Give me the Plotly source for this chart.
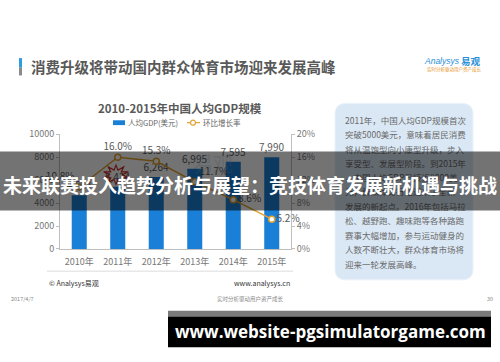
import math
import plotly.graph_objects as go

# ---------------- data ----------------
years = ['2010年', '2011年', '2012年', '2013年', '2014年', '2015年']
gdp_usd = [4684, 5434, 6264, 6995, 7595, 7990]
growth_pct = [10.8, 16.0, 15.3, 11.7, 8.6, 5.2]
growth_label_pos = ['top left', 'top center', 'top center', 'top right', 'middle right', 'middle right']
left_ticks = [0, 2000, 4000, 6000, 8000, 10000]
right_ticks = [0, 4, 8, 12, 16, 20]
right_tick_text = ['0%', '4%', '8%', '12%', '16%', '20%']
legend_names = ['人均GDP(美元)', '环比增长率']

panel_lines = [
    '2011年，中国人均GDP规模首次',
    '突破5000美元，意味着居民消费',
    '将从温饱型向小康型升级，步入',
    '享受型、发展型阶段。到2015年',
    '，中国人均GDP已接近8000美',
    '元，群众体育行业迎来了全新',
    '发展的新起点。2016年包括马拉',
    '松、越野跑、趣味跑等各种路跑',
    '赛事大幅增加，参与运动健身的',
    '人数不断壮大，群众体育市场将',
    '迎来一轮发展高峰。',
]
panel_line_y = [119, 134, 149, 164, 178, 193, 208, 223, 238, 253, 268]

slide_title = '消费升级将带动国内群众体育市场迎来发展高峰'
chart_title = '2010-2015年中国人均GDP规模'
banner_title = '未来联赛投入趋势分析与展望：竞技体育发展新机遇与挑战'
site_text = 'www.website-pgsimulatorgame.com'

W, H = 500, 362
FONT = 'Noto Sans CJK SC'
LINE_C = '#e3a12f'
BAR_C = '#1a7fd6'

fig = go.Figure()

fig.add_trace(go.Bar(
    x=years, y=gdp_usd, name=legend_names[0],
    marker=dict(color=BAR_C, line=dict(width=0)),
    text=[f'{v:,}' for v in gdp_usd], textposition='outside',
    textfont=dict(size=10, color='#595959', family=FONT),
    constraintext='none', cliponaxis=False, hoverinfo='skip', showlegend=False,
))
fig.add_trace(go.Scatter(
    x=years, y=growth_pct, yaxis='y2', name=legend_names[1],
    mode='lines+markers+text',
    line=dict(color=LINE_C, width=1.5),
    marker=dict(size=6, color='white', line=dict(color=LINE_C, width=1.5)),
    text=[f'{g:.1f}%' for g in growth_pct], textposition=growth_label_pos,
    textfont=dict(size=10, color='#595959', family=FONT),
    cliponaxis=False, hoverinfo='skip', showlegend=False,
))

# panel text drawn in a pixel-coordinate overlay subplot (so the banner can cover it)
fig.add_trace(go.Scatter(
    x=[345] * len(panel_lines), y=panel_line_y, text=panel_lines,
    mode='text', textposition='middle right',
    textfont=dict(size=8.5, color='#6a6a6a', family=FONT),
    xaxis='x3', yaxis='y3', showlegend=False, hoverinfo='skip',
))
# faint watermark
fig.add_trace(go.Scatter(
    x=[213], y=[166], text=['易观'], mode='text',
    textfont=dict(size=20, color='rgba(150,190,230,0.30)', family=FONT),
    xaxis='x3', yaxis='y3', showlegend=False, hoverinfo='skip',
))
# legend line-marker sample
fig.add_trace(go.Scatter(
    x=[193], y=[120], mode='markers',
    marker=dict(size=5, color='white', line=dict(color=LINE_C, width=1.2)),
    xaxis='x3', yaxis='y3', showlegend=False, hoverinfo='skip',
))


def rrect(x0, y0, x1, y1, r):
    return (f'M{x0+r},{y0} L{x1-r},{y0} Q{x1},{y0} {x1},{y0+r} '
            f'L{x1},{y1-r} Q{x1},{y1} {x1-r},{y1} L{x0+r},{y1} '
            f'Q{x0},{y1} {x0},{y1-r} L{x0},{y0+r} Q{x0},{y0} {x0+r},{y0} Z')


def burst(cx, cy, rx, ry, n=10):
    pts = []
    for k in range(2 * n):
        a = math.pi * k / n - math.pi / 2
        f = 1.0 if k % 2 == 0 else 0.5
        pts.append((cx + rx * f * math.cos(a), cy + ry * f * math.sin(a)))
    return 'M' + ' L'.join(f'{x:.1f},{y:.1f}' for x, y in pts) + ' Z'


shapes = [
    dict(type='path', path=rrect(335, 100, 473, 283, 11), xref='x3', yref='y3',
         fillcolor='#dae8f5', line=dict(color='#e9f2fa', width=1), layer='below'),
    dict(type='rect', x0=19, x1=22, y0=53, y1=63, xref='x3', yref='y3',
         fillcolor='#2f9be0', line=dict(width=0), layer='below'),
    dict(type='rect', x0=19, x1=22, y0=63, y1=71, xref='x3', yref='y3',
         fillcolor='#8a8a8a', line=dict(width=0), layer='below'),
    dict(type='line', x0=47, x1=293, y0=274, y1=274, xref='x3', yref='y3',
         line=dict(color='#dddddd', width=1), layer='below'),
    # legend samples
    dict(type='rect', x0=113, x1=125, y0=117.5, y1=122.5, xref='x3', yref='y3',
         fillcolor=BAR_C, line=dict(width=0), layer='below'),
    dict(type='line', x0=187, x1=200, y0=120, y1=120, xref='x3', yref='y3',
         line=dict(color=LINE_C, width=1.2), layer='below'),
    dict(type='path', path=burst(116, 174, 13, 10), xref='x3', yref='y3',
         fillcolor='rgba(0,0,0,0)', line=dict(color='#c8302a', width=1.2), layer='above'),
    dict(type='rect', x0=0, x1=500, y0=150, y1=211, xref='x3', yref='y3',
         fillcolor='rgba(0,0,0,0.55)', line=dict(width=0), layer='above'),
    dict(type='rect', x0=168, x1=491, y0=315, y1=321, xref='x3', yref='y3',
         fillcolor='#7a7a7a', line=dict(width=0), layer='above'),
    dict(type='rect', x0=168, x1=491, y0=321, y1=353, xref='x3', yref='y3',
         fillcolor='#000000', line=dict(width=0), layer='above'),
]


def ann(x, y, text, size, color, xanchor='center', bold=False, family=FONT):
    return dict(x=x, y=y, xref='x3', yref='y3', text=f'<b>{text}</b>' if bold else text,
                showarrow=False, xanchor=xanchor, yanchor='middle',
                font=dict(size=size, color=color, family=family),
                borderpad=0)


annotations = [
    ann(30, 62, slide_title, 14.5, '#595959', 'left', True),
    ann(423, 56, '<i>Analysys</i>', 8.5, '#2a8fd8', 'left', False, 'Liberation Sans'),
    ann(460, 56, '易观', 9.5, '#2a8fd8', 'left', True),
    ann(454, 65, '实时分析驱动用户资产成长', 4.5, '#e8962a', 'center'),
    ann(180, 105, chart_title, 11.5, '#595959', 'center', True),
    ann(127, 120, legend_names[0], 7.5, '#666666', 'left'),
    ann(202, 120, legend_names[1], 7.5, '#666666', 'left'),
    ann(48, 286, '© Analysys易观', 7, '#333333', 'left'),
    ann(291, 286, 'www.analysys.cn', 7, '#333333', 'right'),
    ann(10, 303, '2017/4/7', 5.5, '#888888', 'left'),
    ann(250, 303, '实时分析驱动用户资产成长', 5.5, '#888888', 'center'),
    ann(494, 303, '30', 5.5, '#888888', 'right'),
    ann(250, 184, banner_title, 19, '#ffffff', 'center', True),
    ann(330, 337, site_text, 17, '#ffffff', 'center', True, 'Open Sans'),
]

axis_font = dict(size=9, color='#777777', family=FONT)

fig.update_layout(
    width=W, height=H, autosize=False,
    margin=dict(l=0, r=0, t=0, b=0, pad=0),
    paper_bgcolor='white', plot_bgcolor='rgba(0,0,0,0)',
    bargap=0.61,
    showlegend=False,
    xaxis=dict(domain=[60 / W, 291 / W], type='category', showline=True,
               linecolor='#bfbfbf', linewidth=1, ticks='', tickfont=axis_font,
               showgrid=False, zeroline=False, fixedrange=True, ticklabelstandoff=4),
    yaxis=dict(domain=[1 - 251 / H, 1 - 132 / H], range=[0, 10000], tickvals=left_ticks,
               tickformat='d',
               showline=True, linecolor='#bfbfbf', linewidth=1, ticks='outside',
               ticklen=3, tickcolor='#bfbfbf', tickfont=axis_font, showgrid=False,
               zeroline=False, fixedrange=True),
    yaxis2=dict(overlaying='y', side='right', range=[0, 20], tickvals=right_ticks,
                ticktext=right_tick_text, showline=True, linecolor='#bfbfbf', linewidth=1,
                ticks='outside', ticklen=3, tickcolor='#bfbfbf', tickfont=axis_font,
                showgrid=False, zeroline=False, fixedrange=True, anchor='x'),
    xaxis3=dict(domain=[0, 1], range=[0, W], visible=False, fixedrange=True, anchor='y3'),
    yaxis3=dict(domain=[0, 1], range=[H, 0], visible=False, fixedrange=True, anchor='x3'),
    shapes=shapes,
    annotations=annotations,
    font=dict(family=FONT),
    hovermode=False,
)

fig.write_html('out.html', config={'displayModeBar': False, 'staticPlot': True},
               post_script="document.body.style.margin='0';")
